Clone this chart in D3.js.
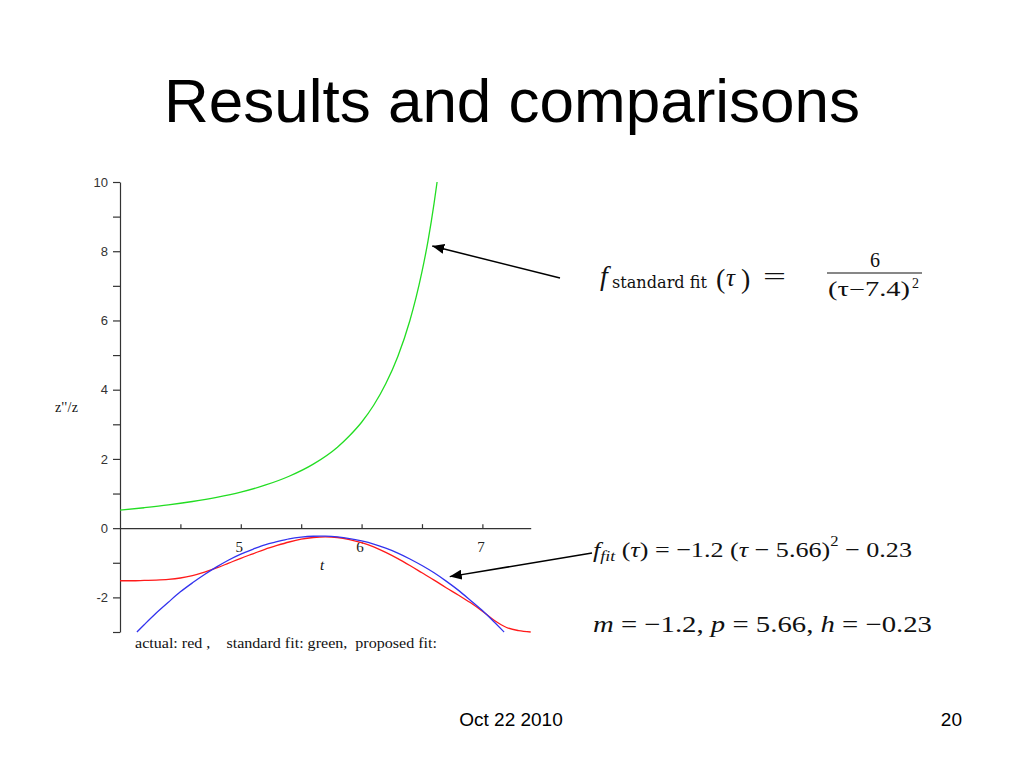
<!DOCTYPE html>
<html>
<head>
<meta charset="utf-8">
<script src="https://cdn.jsdelivr.net/npm/d3@7"></script>
<style>
  html, body { margin: 0; padding: 0; background: #fff; }
  svg { display: block; }
</style>
</head>
<body>
<svg id="chart" width="1024" height="768"></svg>
<script>
// ---- data ----
const title = "Results and comparisons";
const footerDate = "Oct 22 2010";
const footerPage = "20";
const yLabel = "z''/z";
const xLabel = "t";
const caption = "actual: red ,    standard fit: green,  proposed fit:";

const xMajorTicks = [5, 6, 7];
const xMinorTicks = [4.5, 5.5, 6.5];
const yMajorTicks = [-2, 0, 2, 4, 6, 8, 10];
const yMinorTicks = [-3, -1, 1, 3, 5, 7, 9];

// standard fit (green)
const tGreen = [4.0, 4.2, 4.4, 4.6, 4.8, 5.0, 5.2, 5.4, 5.6, 5.8, 5.9, 6.0, 6.1, 6.2, 6.3, 6.4, 6.45, 6.5, 6.55, 6.6, 6.625];
const yGreen = [0.52, 0.59, 0.67, 0.77, 0.89, 1.04, 1.24, 1.5, 1.85, 2.34, 2.67, 3.06, 3.55, 4.17, 4.96, 6.0, 6.65, 7.41, 8.3, 9.38, 10.0];

// proposed fit (blue)
const tBlue = [4.14, 4.2, 4.3, 4.4, 4.5, 4.6, 4.7, 4.8, 4.9, 5.0, 5.1, 5.2, 5.3, 5.4, 5.5, 5.6, 5.66, 5.7, 5.8, 5.9, 6.0, 6.1, 6.2, 6.3, 6.4, 6.5, 6.6, 6.7, 6.8, 6.9, 7.0, 7.1, 7.18];
const yBlue = [-3.0, -2.79, -2.45, -2.14, -1.84, -1.58, -1.34, -1.12, -0.92, -0.75, -0.61, -0.48, -0.39, -0.31, -0.26, -0.234, -0.23, -0.232, -0.254, -0.30, -0.37, -0.46, -0.58, -0.72, -0.89, -1.08, -1.29, -1.53, -1.79, -2.08, -2.38, -2.72, -3.0];

// actual (red)
const tRed = [4.0, 4.1, 4.2, 4.3, 4.4, 4.5, 4.6, 4.7, 4.8, 4.9, 5.0, 5.1, 5.2, 5.3, 5.4, 5.5, 5.6, 5.7, 5.8, 5.9, 6.0, 6.1, 6.2, 6.3, 6.4, 6.5, 6.6, 6.7, 6.8, 6.9, 7.0, 7.1, 7.2, 7.3, 7.4];
const yRed = [-1.52, -1.52, -1.51, -1.50, -1.48, -1.44, -1.37, -1.27, -1.15, -1.01, -0.87, -0.74, -0.61, -0.50, -0.40, -0.32, -0.27, -0.25, -0.27, -0.33, -0.42, -0.54, -0.70, -0.88, -1.08, -1.29, -1.50, -1.72, -1.93, -2.15, -2.40, -2.67, -2.87, -2.96, -3.0];

// arrow targets (data coordinates of the annotated points)
const arrowGreen = {t: 6.585, v: 8.15};
const arrowBlue = {t: 6.73, v: -1.40};

// ---- drawing ----
const svg = d3.select("#chart");
const x = d3.scaleLinear().domain([4, 7.4]).range([120, 530.7]);
const y = d3.scaleLinear().domain([-3, 10]).range([632, 182]);
const sans = "Liberation Sans, Arial, sans-serif";
const serif = "Liberation Serif, Times New Roman, serif";

// title
svg.append("text").attr("x", 512).attr("y", 122).attr("text-anchor", "middle")
  .attr("font-family", sans).attr("font-size", 62).attr("fill", "#000").text(title);

// footer
svg.append("text").attr("x", 511).attr("y", 726).attr("text-anchor", "middle")
  .attr("font-family", sans).attr("font-size", 19).attr("fill", "#000").text(footerDate);
svg.append("text").attr("x", 962).attr("y", 726).attr("text-anchor", "end")
  .attr("font-family", sans).attr("font-size", 19).attr("fill", "#000").text(footerPage);

// y axis
const yAxisG = svg.append("g").attr("transform", `translate(${x(4)},0)`)
  .call(d3.axisLeft(y).tickValues(yMajorTicks).tickSizeInner(7).tickSizeOuter(0).tickPadding(5)
    .tickFormat(d => d < 0 ? "-" + Math.abs(d) : String(d)));
yAxisG.selectAll("text").attr("font-family", sans).attr("font-size", 13).attr("fill", "#333");
svg.append("g").attr("transform", `translate(${x(4)},0)`)
  .call(d3.axisLeft(y).tickValues(yMinorTicks).tickSizeInner(7).tickSizeOuter(0).tickFormat(""))
  .select(".domain").remove();

// x axis at y = 0, ticks upward, labels below
const xAxisG = svg.append("g").attr("transform", `translate(0,${y(0)})`)
  .call(d3.axisBottom(x).tickValues(xMajorTicks).tickSizeInner(-4).tickSizeOuter(0).tickPadding(13)
    .tickFormat(d3.format("d")));
xAxisG.selectAll("text").attr("font-family", serif).attr("font-size", 15).attr("fill", "#222").attr("dx", "-2");
svg.append("g").attr("transform", `translate(0,${y(0)})`)
  .call(d3.axisBottom(x).tickValues(xMinorTicks).tickSizeInner(-4).tickSizeOuter(0).tickFormat(""))
  .select(".domain").remove();
svg.selectAll(".domain, .tick line").attr("stroke", "#333").attr("stroke-width", 1.2);

// axis labels
svg.append("text").attr("x", 55).attr("y", 412).attr("font-family", serif).attr("font-size", 14)
  .attr("fill", "#111").attr("textLength", 23).text(yLabel);
svg.append("text").attr("x", 322).attr("y", 570).attr("text-anchor", "middle")
  .attr("font-family", serif).attr("font-style", "italic").attr("font-size", 15)
  .attr("fill", "#111").text(xLabel);

// curves
const line = d3.line().x(d => x(d[0])).y(d => y(d[1])).curve(d3.curveMonotoneX);
const series = [
  {t: tRed, v: yRed, color: "#ff1a1a"},
  {t: tGreen, v: yGreen, color: "#22dd22"},
  {t: tBlue, v: yBlue, color: "#3333ee"}
];
series.forEach(s => {
  svg.append("path").datum(d3.zip(s.t, s.v)).attr("d", line)
    .attr("fill", "none").attr("stroke", s.color).attr("stroke-width", 1.3);
});

// caption under the plot
svg.append("text").attr("x", 135).attr("y", 648).attr("xml:space", "preserve")
  .style("white-space", "pre").attr("font-family", serif).attr("font-size", 14)
  .attr("fill", "#111").attr("textLength", 302).attr("lengthAdjust", "spacingAndGlyphs").text(caption);

// arrows
const defs = svg.append("defs");
defs.append("marker").attr("id", "ah").attr("viewBox", "0 0 12 10").attr("refX", 12).attr("refY", 5)
  .attr("markerWidth", 12).attr("markerHeight", 10).attr("markerUnits", "userSpaceOnUse")
  .attr("orient", "auto")
  .append("path").attr("d", "M0,0 L12,5 L0,10 Z").attr("fill", "#000");
svg.append("line").attr("x1", 560).attr("y1", 278).attr("x2", x(arrowGreen.t)).attr("y2", y(arrowGreen.v))
  .attr("stroke", "#000").attr("stroke-width", 1.5).attr("marker-end", "url(#ah)");
svg.append("line").attr("x1", 592).attr("y1", 553).attr("x2", x(arrowBlue.t)).attr("y2", y(arrowBlue.v))
  .attr("stroke", "#000").attr("stroke-width", 1.5).attr("marker-end", "url(#ah)");

// formulas
function txt(xp, yp, s, size, opts = {}) {
  const t = svg.append("text").attr("x", xp).attr("y", yp).attr("font-family", opts.family || serif)
    .attr("font-size", size).attr("fill", "#111");
  if (opts.italic) t.attr("font-style", "italic");
  if (opts.anchor) t.attr("text-anchor", opts.anchor);
  if (opts.len) t.attr("textLength", opts.len).attr("lengthAdjust", "spacingAndGlyphs");
  t.attr("xml:space", "preserve").style("white-space", "pre");
  t.text(s);
  return t;
}
// formula 1: f_standard fit (tau) = 6 / (tau - 7.4)^2
txt(600, 285, "f", 28, {italic: true});
txt(612, 288, "standard fit", 16, {len: 95, family: "DejaVu Serif, serif"});
txt(716, 288, "(", 28);
txt(726, 286, "τ", 25, {italic: true});
txt(741, 288, ")", 28);
txt(763, 285, "=", 26, {len: 23});
svg.append("line").attr("x1", 827).attr("x2", 922).attr("y1", 273).attr("y2", 273)
  .attr("stroke", "#111").attr("stroke-width", 1.2);
txt(875, 267, "6", 20, {anchor: "middle"});
txt(828, 296, "(τ−7.4)", 20, {len: 82});
txt(912, 288, "2", 14);

// formula 2: f_fit(tau) = -1.2 (tau - 5.66)^2 - 0.23
const f2 = svg.append("text").attr("x", 593).attr("y", 557).attr("font-family", serif)
  .attr("font-size", 22).attr("fill", "#111").attr("textLength", 319)
  .attr("lengthAdjust", "spacingAndGlyphs").attr("xml:space", "preserve").style("white-space", "pre");
f2.append("tspan").attr("font-style", "italic").text("f");
f2.append("tspan").attr("font-style", "italic").attr("font-size", 15).attr("dy", 4).text("fit");
f2.append("tspan").attr("dy", -4).text(" (");
f2.append("tspan").attr("font-style", "italic").text("τ");
f2.append("tspan").text(") = −1.2 (");
f2.append("tspan").attr("font-style", "italic").text("τ");
f2.append("tspan").text(" − 5.66)");
f2.append("tspan").attr("font-size", 14).attr("dy", -11).text("2");
f2.append("tspan").attr("dy", 11).text(" − 0.23");

// parameters line
const p = svg.append("text").attr("x", 593).attr("y", 632).attr("font-family", serif)
  .attr("font-size", 23).attr("fill", "#111").attr("textLength", 339)
  .attr("lengthAdjust", "spacingAndGlyphs").attr("xml:space", "preserve").style("white-space", "pre");
p.append("tspan").attr("font-style", "italic").text("m");
p.append("tspan").text(" = −1.2, ");
p.append("tspan").attr("font-style", "italic").text("p");
p.append("tspan").text(" = 5.66, ");
p.append("tspan").attr("font-style", "italic").text("h");
p.append("tspan").text(" = −0.23");
</script>
</body>
</html>
